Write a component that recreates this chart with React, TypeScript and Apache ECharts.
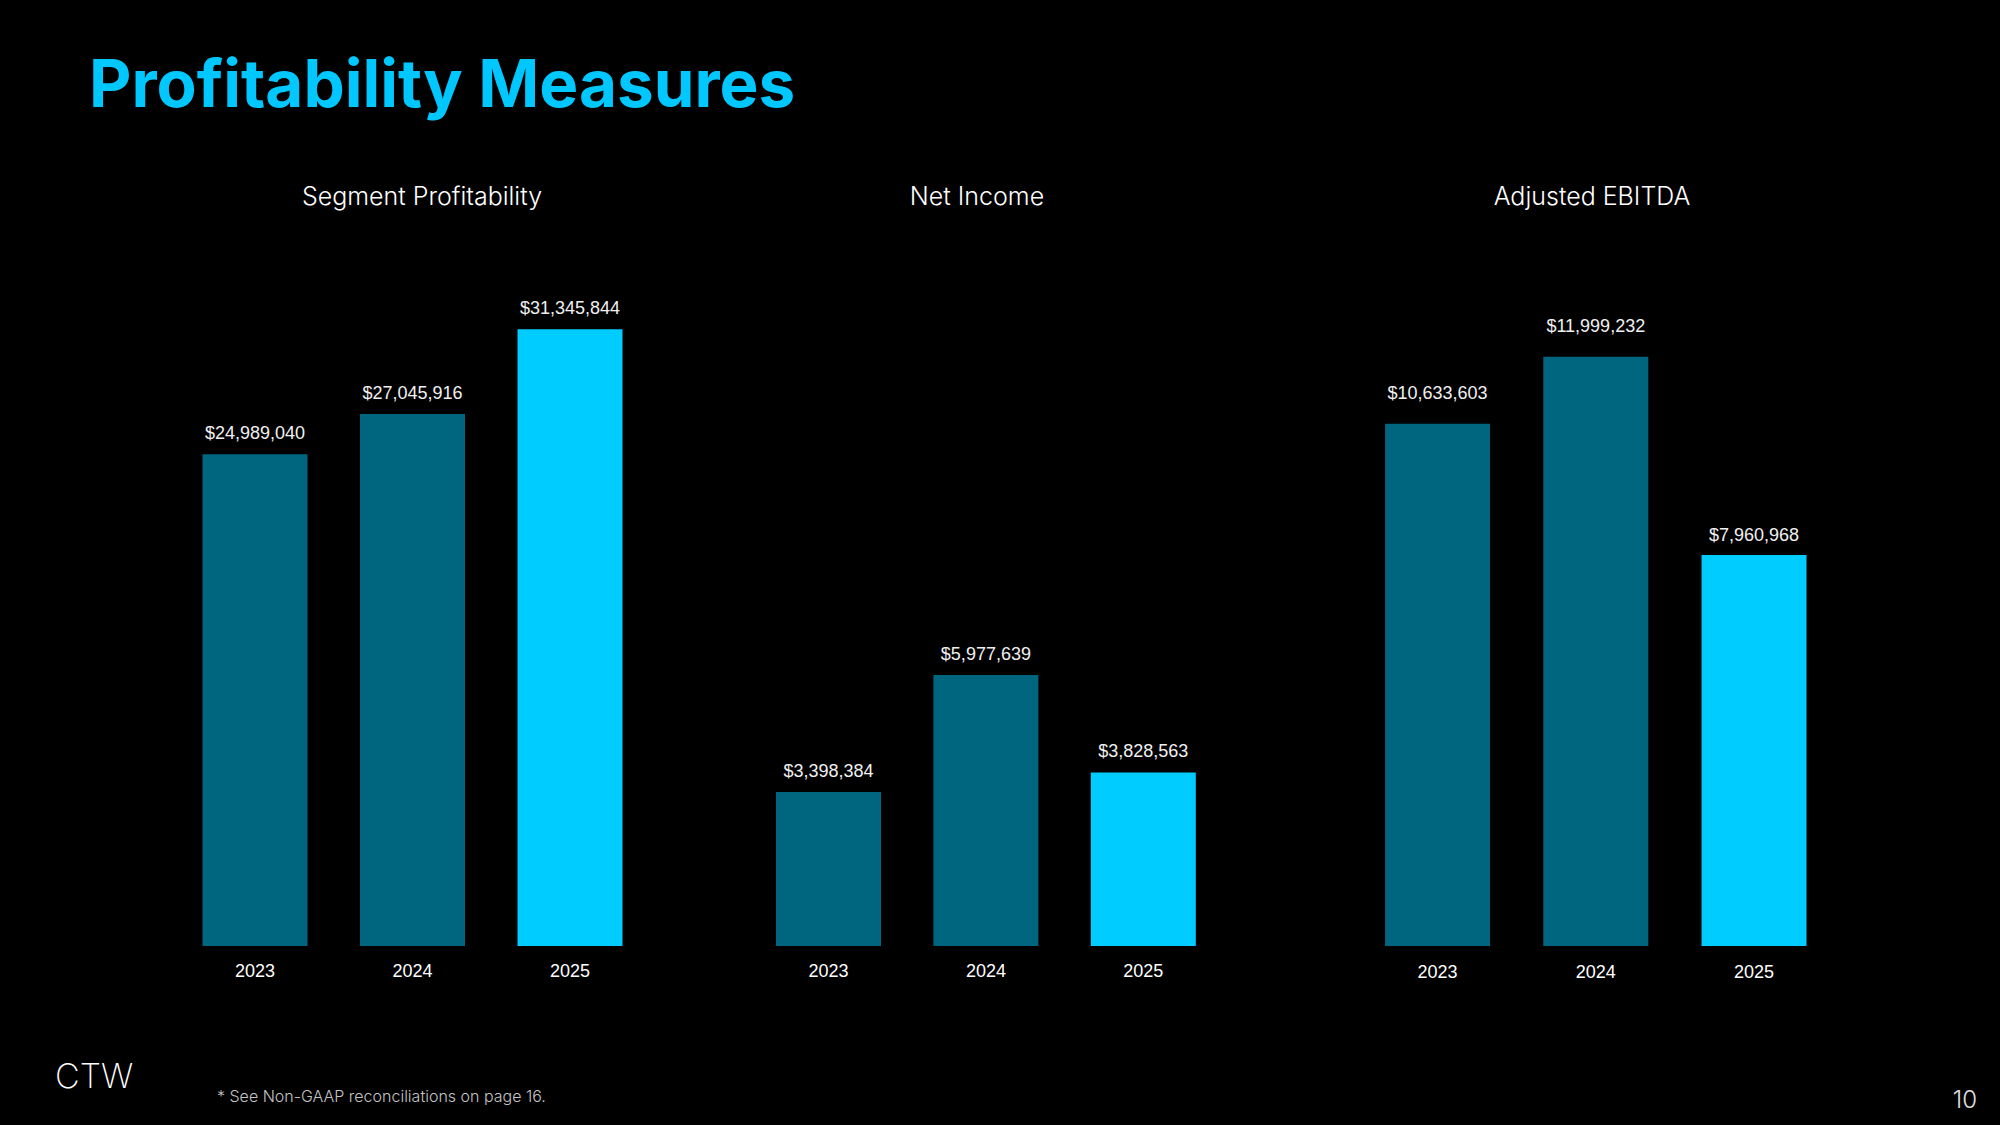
import React, { useEffect, useRef } from "react";
import * as echarts from "echarts";

const years = ["2023", "2024", "2025"];
const segmentProfitability = [24989040, 27045916, 31345844];
const netIncome = [3398384, 5977639, 3828563];
const adjustedEbitda = [10633603, 11999232, 7960968];
const chartTitles = ["Segment Profitability", "Net Income", "Adjusted EBITDA"];
const barColors = ["#00657f", "#00657f", "#00ccff"];

const fmt = (v: number) => "$" + v.toLocaleString("en-US");

export default function App() {
  const ref = useRef<HTMLDivElement>(null);
  useEffect(() => {
    if (!ref.current) return;
    const chart = echarts.init(ref.current, undefined, { renderer: "svg" });
    const seriesData = [segmentProfitability, netIncome, adjustedEbitda];
    const grids = [
      { left: 176.25, width: 472.5, top: 250, bottom: 179 },
      { left: 749.8, width: 472.2, top: 250, bottom: 179 },
      { left: 1358.4, width: 474.75, top: 250, bottom: 179 },
    ];
    const maxes = [35376000, 15352000, 14172000];
    // label offsets per chart/bar (chart 3 has higher labels on first two bars)
    const labelDistances = [
      [12, 12, 12],
      [12, 12, 12],
      [22, 22, 11],
    ];
    const axisMargins = [16, 16, 17];
    const labelFont = "'Liberation Sans', Arial, sans-serif";
    const uiFont = "Inter, 'Noto Sans', sans-serif";
    const option: any = {
      animation: false,
      backgroundColor: "#000000",
      grid: grids,
      xAxis: grids.map((_, i) => ({
        type: "category",
        gridIndex: i,
        data: years,
        axisLine: { show: false },
        axisTick: { show: false },
        splitLine: { show: false },
        axisLabel: {
          color: "#ffffff",
          fontSize: 18,
          fontFamily: labelFont,
          margin: axisMargins[i],
        },
      })),
      yAxis: grids.map((_, i) => ({
        type: "value",
        gridIndex: i,
        min: 0,
        max: maxes[i],
        show: false,
        splitLine: { show: false },
      })),
      series: seriesData.map((vals, i) => ({
        type: "bar",
        xAxisIndex: i,
        yAxisIndex: i,
        barWidth: 105,
        data: vals.map((v, j) => ({
          value: v,
          itemStyle: { color: barColors[j] },
          label: { distance: labelDistances[i][j] },
        })),
        label: {
          show: true,
          position: "top",
          color: "#f0f0f0",
          fontSize: 18,
          fontFamily: labelFont,
          formatter: (p: any) => fmt(p.value),
        },
      })),
      graphic: [
        {
          type: "text",
          left: 89,
          top: 50,
          style: {
            text: "Profitability Measures",
            fill: "#00c8ff",
            font: `bold 65.5px ${uiFont}`,
          },
        },
        ...chartTitles.map((t, i) => ({
          type: "text",
          x: [422, 977, 1592][i],
          y: 196,
          style: {
            text: t,
            fill: "#ffffff",
            font: `300 25px ${uiFont}`,
            align: "center",
            verticalAlign: "middle",
          },
        })),
        {
          type: "text",
          x: 55,
          y: 1075,
          style: {
            text: "CTW",
            fill: "#ffffff",
            font: `200 34px ${uiFont}`,
            verticalAlign: "middle",
          },
        },
        {
          type: "text",
          x: 217,
          y: 1096,
          style: {
            text: "* See Non-GAAP reconciliations on page 16.",
            fill: "#c4c4c4",
            font: `300 16px ${uiFont}`,
            verticalAlign: "middle",
          },
        },
        {
          type: "text",
          x: 1977,
          y: 1099,
          style: {
            text: "10",
            fill: "#e0e0e0",
            font: `300 24px ${uiFont}`,
            align: "right",
            verticalAlign: "middle",
          },
        },
      ],
    };
    chart.setOption(option);
    return () => chart.dispose();
  }, []);
  return (
    <div
      ref={ref}
      style={{ position: "fixed", left: 0, top: 0, width: 2000, height: 1125, background: "#000" }}
    />
  );
}
